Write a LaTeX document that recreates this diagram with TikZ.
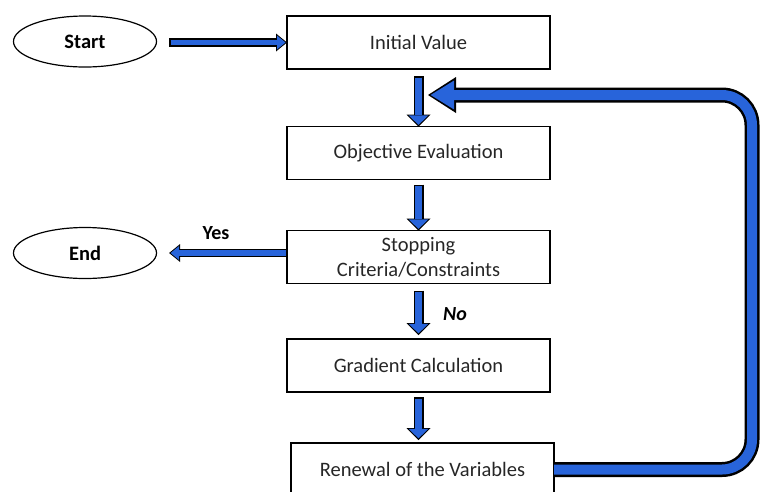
\documentclass[tikz,border=0pt]{standalone}
\usepackage{fontspec}
\setmainfont{Carlito}
\usetikzlibrary{arrows.meta,shapes.geometric}
\definecolor{flowblue}{RGB}{40,100,218}

\begin{document}
\begin{tikzpicture}
      [
        x=1pt, y=-1pt,
        font=\fontsize{20.5}{25}\selectfont,
        FlowBlock/.style={draw, line width=1.2pt, text=black!85, minimum width=263pt, minimum height=53pt, align=center, outer sep=0pt},
        Terminal/.style={draw, ellipse, line width=1.2pt, minimum width=143pt, minimum height=51pt, font=\fontsize{20.5}{25}\selectfont\bfseries},
        FlowArrow/.style={line width=10pt, draw=black, -{Triangle[length=12pt, width=24pt, line width=0pt]},
          postaction={draw=flowblue, line width=7pt, -{Triangle[length=9.5pt, width=19.5pt, line width=0pt]}, shorten >=1.6pt, shorten <=1.5pt}},
        SideArrow/.style={line width=8.5pt, draw=black, -{Triangle[length=11pt, width=18pt, line width=0pt]},
          postaction={draw=flowblue, line width=5.5pt, -{Triangle[length=8.5pt, width=14pt, line width=0pt]}, shorten >=1.5pt, shorten <=1.5pt}},
        LoopArrow/.style={line width=15pt, draw=black, rounded corners=30pt, -{Triangle[length=28pt, width=36pt, line width=0pt]},
          postaction={draw=flowblue, line width=10pt, rounded corners=30pt, -{Triangle[length=23.5pt, width=29pt, line width=0pt]}, shorten >=2.6pt, shorten <=0pt}},
      ]
      \useasboundingbox (0,0) rectangle (761,491);
      \clip (0,0) rectangle (761,491);

      \node [Terminal] (start) at (85,41.5) {Start};
      \node [Terminal] (end) at (85,253) {End};

      \node [FlowBlock] (init) at (418.5,42.5) {Initial Value};
      \node [FlowBlock] (obj) at (418.5,153) {Objective Evaluation};
      \node [FlowBlock, text depth=0pt] (stop) at (418.5,257) {Stopping\\Criteria/Constraints};
      \node [FlowBlock] (grad) at (418.5,365.5) {Gradient Calculation};
      \node [FlowBlock] (renew) at (422.5,469.5) {Renewal of the Variables};

      \coordinate (loopin) at (428,95);

      \draw [SideArrow] ([xshift=12pt]start.east |- init.west) -- (init.west);
      \draw [FlowArrow] ([yshift=-7pt]init.south) -- (obj.north);
      \draw [FlowArrow] ([yshift=-5pt]obj.south) -- (stop.north);
      \draw [SideArrow] (stop.west |- end) -- ([xshift=12pt]end.east);
      \draw [FlowArrow] ([yshift=-7pt]stop.south) -- ([yshift=4pt]grad.north);
      \draw [FlowArrow] ([yshift=-5pt]grad.south) -- ([yshift=3pt]renew.north -| grad.south);
      \draw [LoopArrow] (renew.east) -| (752,95) -- (loopin);

      \node [font=\fontsize{20}{24}\selectfont\bfseries] (yes) at (216,233) {Yes};
      \node [font=\fontsize{20}{24}\selectfont\bfseries\itshape] (no) at (455,314) {No};
    \end{tikzpicture}
\end{document}
